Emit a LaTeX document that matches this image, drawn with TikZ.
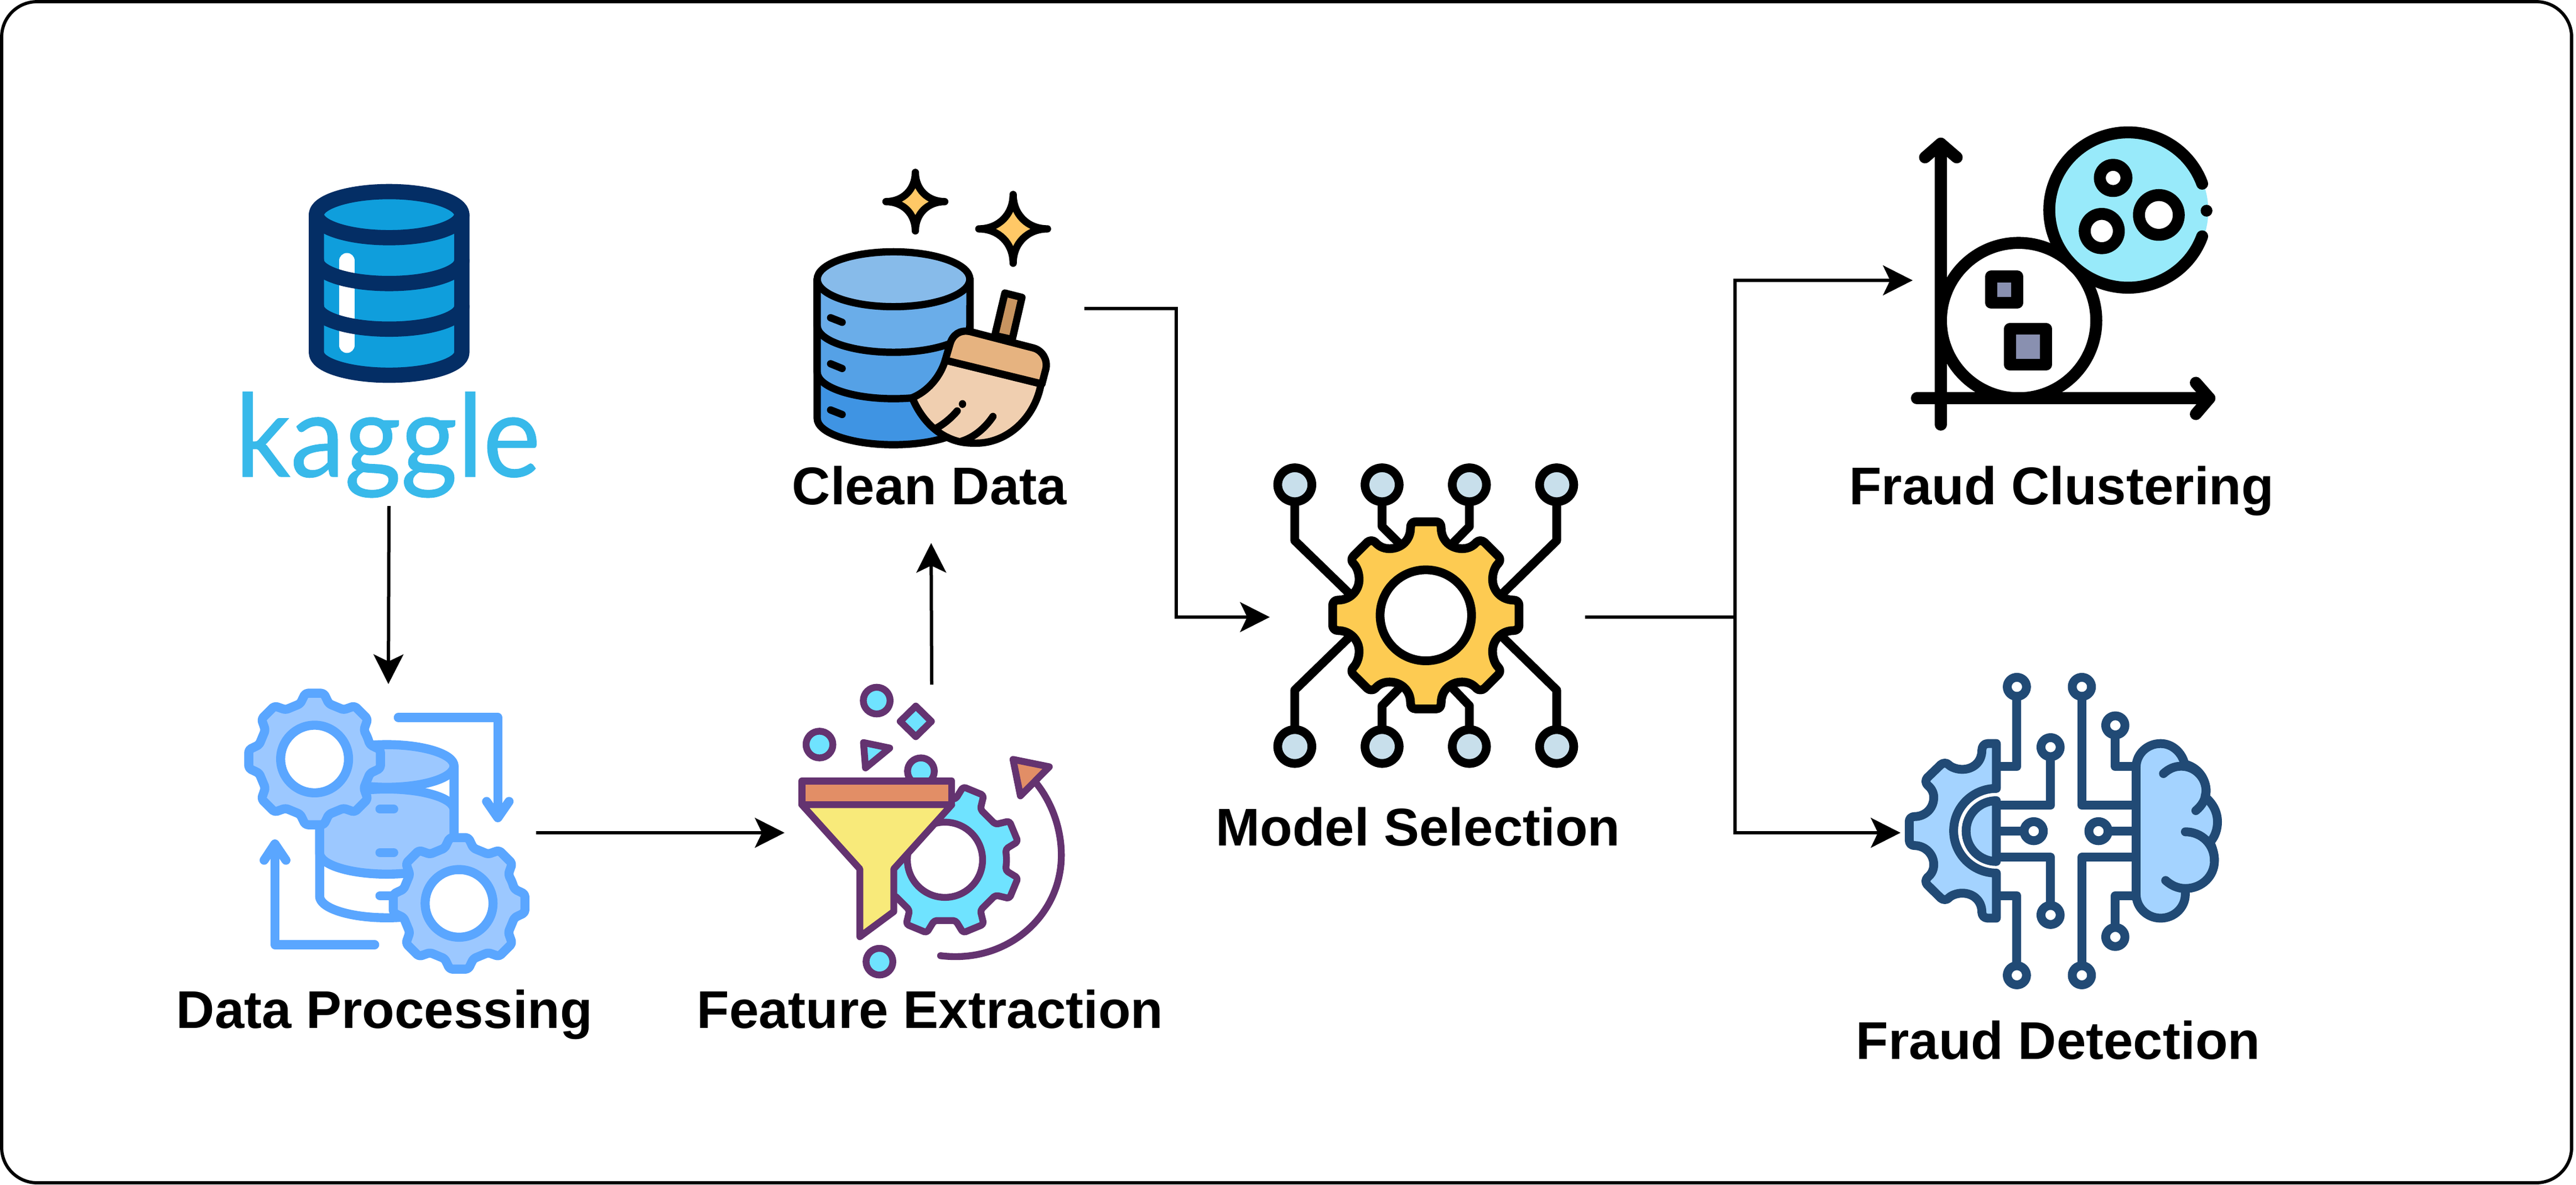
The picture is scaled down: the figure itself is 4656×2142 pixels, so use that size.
\documentclass[tikz,border=0pt]{standalone}
\usepackage{fontspec}
\setmainfont{Liberation Sans}
\newfontfamily\kagglefont{Lato}[FakeStretch=0.945,FakeBold=0.6]
\usetikzlibrary{arrows.meta}
\definecolor{navy}{HTML}{042E65}
\definecolor{dbblue}{HTML}{0F9EDC}
\definecolor{kaggleblue}{HTML}{38B9EA}
\definecolor{dpline}{HTML}{5AA6FF}
\definecolor{dpfill}{HTML}{9CC8FF}
\definecolor{purp}{HTML}{643370}
\definecolor{cyanf}{HTML}{6FE3FF}
\definecolor{orangef}{HTML}{E28E66}
\definecolor{yellowf}{HTML}{F8EA7A}
\definecolor{bandA}{HTML}{87BBEA}
\definecolor{bandB}{HTML}{6AADE9}
\definecolor{bandC}{HTML}{55A1E6}
\definecolor{bandD}{HTML}{3F94E3}
\definecolor{handlef}{HTML}{C79460}
\definecolor{headf}{HTML}{E6B380}
\definecolor{bristlef}{HTML}{F0CFB0}
\definecolor{starf}{HTML}{FFC866}
\definecolor{gearf}{HTML}{FDCB52}
\definecolor{nodef}{HTML}{C8DFEB}
\definecolor{clusterf}{HTML}{98EAFA}
\definecolor{squaref}{HTML}{8990B0}
\definecolor{detline}{HTML}{214A75}
\definecolor{detf}{HTML}{A4D3FF}
\tikzset{
  label text/.style={font=\fontsize{24pt}{28pt}\selectfont\bfseries,text=black,anchor=base,inner sep=0pt},
  conn/.style={line width=1.5pt,-{Stealth[length=13.5pt,width=13.7pt,inset=3.3pt,line width=0pt]}},
  plainconn/.style={line width=1.5pt},
  ico/.style={line cap=round,line join=round},
}
\newcommand{\gearshape}[9][]{%
 \draw[#1,rounded corners=1.2pt] ({#2+#4*#7*cos(#6-22.5)},{#3+#5*#7*sin(#6-22.5)})
  \foreach \k [evaluate=\k as \a using #6+45*\k] in {0,...,7} {
    -- ({#2+#4*#7*cos(\a-#8)},{#3+#5*#7*sin(\a-#8)})
    -- ({#2+#4*cos(\a-#9)},{#3+#5*sin(\a-#9)})
    -- ({#2+#4*cos(\a+#9)},{#3+#5*sin(\a+#9)})
    -- ({#2+#4*#7*cos(\a+#8)},{#3+#5*#7*sin(\a+#8)})
  } -- cycle;}
\newcommand{\starshape}[5][]{%
 \draw[#1] (#2,#3-#5) .. controls (#2,#3-0.42*#5) and (#2-0.42*#4,#3) .. (#2-#4,#3)
   .. controls (#2-0.42*#4,#3) and (#2,#3+0.42*#5) .. (#2,#3+#5)
   .. controls (#2,#3+0.42*#5) and (#2+0.42*#4,#3) .. (#2+#4,#3)
   .. controls (#2+0.42*#4,#3) and (#2,#3-0.42*#5) .. (#2,#3-#5) -- cycle;}
\begin{document}
\begin{tikzpicture}[x=0.25pt,y=-0.25pt]
\useasboundingbox (0,0) rectangle (4656,2142);
\draw[line width=1.45pt,rounded corners=16pt] (3,3) rectangle (4648,2139);

% ---------- Kaggle database ----------
\begin{scope}[shift={(380,280)},xscale=0.4145,yscale=0.4209,ico]
  \fill[dbblue] (463,257) -- (463,850) arc[start angle=180,end angle=0,x radius=317,y radius=97] -- (1097,257) -- cycle;
  \draw[white,line width=7pt] (596,455) -- (596,818);
  \fill[dbblue] (780,257) ellipse[x radius=317,y radius=99];
  \draw[navy,line width=6.9pt] (463,455) arc[start angle=180,end angle=0,x radius=317,y radius=98];
  \draw[navy,line width=6.9pt] (463,652) arc[start angle=180,end angle=0,x radius=317,y radius=97];
  \draw[navy,line width=6.9pt] (463,257) -- (463,850) arc[start angle=180,end angle=0,x radius=317,y radius=97] -- (1097,257);
  \draw[navy,line width=6.9pt] (780,257) ellipse[x radius=317,y radius=99];
\end{scope}
\node[font=\kagglefont\fontsize{52pt}{60pt}\selectfont,text=kaggleblue,anchor=base,inner sep=0pt] (kaggle) at (701,862) {kaggle};

% ---------- Data processing icon ----------
\begin{scope}[shift={(380,1200)},xscale=0.4145,yscale=0.4337,ico]
  \tikzset{dpl/.style={draw=dpline,line width=4.1pt}}
  \draw[dpl] (820,225) -- (1254,225) -- (1254,640);
  \draw[dpl] (1205,575) -- (1254,643) -- (1303,575);
  \draw[dpl] (717,1172) -- (282,1172) -- (282,755);
  \draw[dpl] (235,820) -- (282,752) -- (330,820);
  \path[dpl,fill=white] (477,427) -- (477,970) arc[start angle=180,end angle=0,x radius=293,y radius=90] -- (1063,427) -- cycle;
  \path[dpl,fill=dpfill] (477,610) -- (477,790) arc[start angle=180,end angle=0,x radius=293,y radius=88] -- (1063,610) arc[start angle=0,end angle=180,x radius=293,y radius=-87] -- cycle;
  \path[dpl,fill=dpfill] (770,427) ellipse[x radius=293,y radius=89];
  \draw[dpl] (740,607) -- (800,607);
  \draw[dpl] (740,788) -- (800,788);
  \draw[dpl] (740,968) -- (800,968);
  \gearshape[dpl,fill=dpfill]{455}{398}{290}{277}{0}{.86}{14.5}{8}
  \draw[dpl,fill=white] (455,398) ellipse[x radius=148,y radius=141];
  \gearshape[dpl,fill=dpfill]{1085}{1000}{290}{277}{0}{.86}{14.5}{8}
  \draw[dpl,fill=white] (1085,1000) ellipse[x radius=148,y radius=141];
\end{scope}

% ---------- Feature extraction icon ----------
\begin{scope}[shift={(1380,1180)},xscale=0.3316,yscale=0.3954,ico]
  \tikzset{fel/.style={draw=purp,line width=3.1pt}}
  \draw[fel,fill=cyanf] (617,220) ellipse[x radius=73,y radius=61];
  \draw[fel,fill=cyanf] (305,421) ellipse[x radius=73,y radius=61];
  \draw[fel,fill=cyanf] (632,1414) ellipse[x radius=73,y radius=61];
  \draw[fel,fill=cyanf] (858,543) ellipse[x radius=73,y radius=61];
  \draw[fel,fill=cyanf] (830,245) -- (915,315) -- (830,385) -- (745,315) -- cycle;
  \draw[fel,fill=cyanf] (545,412) -- (688,437) -- (556,528) -- cycle;
  \gearshape[fel,fill=cyanf]{989}{948}{410}{344}{22.5}{.82}{12.5}{8.5}
  \draw[fel,fill=white] (989,948) ellipse[x radius=205,y radius=172];
  \draw[fel,fill=yellowf] (209,696) -- (525,990) -- (525,1300) -- (710,1185) -- (710,990) -- (1026,696) -- cycle;
  \draw[fel,fill=orangef] (209,588) rectangle (1026,696);
\end{scope}
\begin{scope}[shift={(1680,1340)},scale=0.3333,ico]
  \draw[draw=purp,line width=3.1pt] (60,1165) .. controls (420,1210) and (715,950) .. (715,620) .. controls (715,470) and (660,330) .. (580,230);
  \draw[draw=purp,line width=3.1pt,fill=orangef] (453,100) -- (650,140) -- (493,298) -- cycle;
\end{scope}

% ---------- Clean data icon ----------
\begin{scope}[shift={(1420,280)},xscale=0.3316,yscale=0.3571,ico]
  \tikzset{cdl/.style={draw=black,line width=3.3pt}}
  \draw[cdl,fill=bandD] (172,630) -- (172,1335) arc[start angle=180,end angle=0,x radius=416,y radius=133] -- (1005,630) -- cycle;
  \draw[cdl,fill=bandC] (172,630) -- (172,1100) arc[start angle=180,end angle=0,x radius=416,y radius=135] -- (1005,630) -- cycle;
  \draw[cdl,fill=bandB] (172,630) -- (172,865) arc[start angle=180,end angle=0,x radius=416,y radius=135] -- (1005,630) -- cycle;
  \draw[cdl,fill=bandA] (588,630) ellipse[x radius=416,y radius=139];
  \draw[cdl] (245,825) -- (308,848);
  \draw[cdl] (245,1058) -- (308,1082);
  \draw[cdl] (245,1292) -- (308,1315);
  \starshape[cdl,fill=starf]{707}{237}{160}{148}
  \starshape[cdl,fill=starf]{1240}{375}{187}{174}
  \draw[cdl,fill=handlef] (1195,700) -- (1288,722) -- (1235,935) -- (1140,915) -- cycle;
  \draw[cdl,fill=bristlef] (870,1040) .. controls (840,1130) and (770,1200) .. (690,1230) .. controls (725,1310) and (790,1390) .. (880,1430) .. controls (940,1458) and (990,1460) .. (1040,1460) .. controls (1210,1460) and (1360,1330) .. (1392,1160) -- cycle;
  \draw[cdl,fill=headf] (870,1040) -- (895,960) .. controls (910,910) and (950,885) .. (1005,895) -- (1350,978) .. controls (1400,990) and (1430,1040) .. (1418,1085) -- (1397,1160) -- cycle;
  \draw[cdl] (935,1297) .. controls (900,1335) and (860,1365) .. (820,1385);
  \draw[cdl] (1130,1325) .. controls (1090,1380) and (1030,1430) .. (960,1450);
  \fill (964,1262) ellipse[x radius=20,y radius=20];
\end{scope}

% ---------- Model selection icon ----------
\begin{scope}[shift={(2260,820)},xscale=0.3954,yscale=0.3827,ico]
  \tikzset{mdl/.style={draw=black,line width=3.95pt}}
  \draw[mdl] (203,148) -- (203,412) -- (470,680);
  \draw[mdl] (602,148) -- (602,345) -- (680,425);
  \draw[mdl] (1001,148) -- (1001,345) -- (925,425);
  \draw[mdl] (1400,148) -- (1400,412) -- (1135,680);
  \draw[mdl] (203,1385) -- (203,1118) -- (470,850);
  \draw[mdl] (602,1385) -- (602,1192) -- (680,1110);
  \draw[mdl] (1001,1385) -- (1001,1192) -- (925,1110);
  \draw[mdl] (1400,1385) -- (1400,1118) -- (1135,850);
  \foreach \cx in {203,602,1001,1400}{
    \draw[mdl,fill=nodef] (\cx,148) ellipse[x radius=78,y radius=80];
    \draw[mdl,fill=nodef] (\cx,1385) ellipse[x radius=78,y radius=80];
  }
  \draw[mdl,fill=gearf] (850,323)
   .. controls (865,323) and (872,335) .. (872,352)
   .. controls (872,410) and (915,450) .. (968,450)
   .. controls (1000,450) and (1020,435) .. (1033,420)
   .. controls (1042,410) and (1060,410) .. (1070,420)
   -- (1133,485)
   .. controls (1143,495) and (1143,510) .. (1133,520)
   .. controls (1118,535) and (1107,565) .. (1107,595)
   .. controls (1107,650) and (1150,693) .. (1203,693)
   .. controls (1218,693) and (1228,703) .. (1228,718)
   -- (1228,812)
   .. controls (1228,827) and (1218,837) .. (1203,837)
   .. controls (1150,837) and (1107,880) .. (1107,935)
   .. controls (1107,965) and (1118,995) .. (1133,1010)
   .. controls (1143,1020) and (1143,1035) .. (1133,1045)
   -- (1070,1110)
   .. controls (1060,1120) and (1042,1120) .. (1033,1110)
   .. controls (1020,1095) and (1000,1080) .. (968,1080)
   .. controls (915,1080) and (872,1120) .. (872,1178)
   .. controls (872,1195) and (865,1207) .. (850,1207)
   -- (755,1207)
   .. controls (739,1207) and (732,1195) .. (732,1178)
   .. controls (732,1120) and (689,1080) .. (636,1080)
   .. controls (604,1080) and (584,1095) .. (571,1110)
   .. controls (562,1120) and (544,1120) .. (534,1110)
   -- (471,1045)
   .. controls (461,1035) and (461,1020) .. (471,1010)
   .. controls (486,995) and (497,965) .. (497,935)
   .. controls (497,880) and (454,837) .. (401,837)
   .. controls (386,837) and (376,827) .. (376,812)
   -- (376,718)
   .. controls (376,703) and (386,693) .. (401,693)
   .. controls (454,693) and (497,650) .. (497,595)
   .. controls (497,565) and (486,535) .. (471,520)
   .. controls (461,510) and (461,495) .. (471,485)
   -- (534,420)
   .. controls (544,410) and (562,410) .. (571,420)
   .. controls (584,435) and (604,450) .. (636,450)
   .. controls (689,450) and (732,410) .. (732,352)
   .. controls (732,335) and (739,323) .. (755,323)
   -- cycle;
  \draw[mdl,fill=white] (802,765) ellipse[x radius=209,y radius=215];
\end{scope}

% ---------- Fraud clustering icon ----------
\begin{scope}[shift={(3420,210)},xscale=0.3954,yscale=0.3827,ico]
  \tikzset{fcl/.style={draw=black,line width=5.4pt}}
  \draw[fcl,fill=white] (578,966) ellipse[x radius=355,y radius=367];
  \fill[clusterf] (1085,447) ellipse[x radius=360,y radius=367];
  \draw[fcl] (1417,568) arc[start angle=19.8,end angle=340.2,x radius=360,y radius=367];
  \fill (1437,447) ellipse[x radius=27,y radius=28];
  \draw[fcl] (222,1458) -- (222,130);
  \draw[fcl] (150,195) -- (222,130) -- (295,195);
  \draw[fcl] (113,1333) -- (1450,1333);
  \draw[fcl] (1388,1260) -- (1450,1333) -- (1388,1408);
  \draw[fcl,fill=white] (1010,292) ellipse[x radius=61,y radius=62];
  \draw[fcl,fill=white] (958,543) ellipse[x radius=78,y radius=81];
  \draw[fcl,fill=white] (1219,467) ellipse[x radius=91,y radius=94];
  \draw[fcl,fill=squaref] (452,758) rectangle (572,882);
  \draw[fcl,fill=squaref] (539,1005) rectangle (703,1175);
\end{scope}

% ---------- Fraud detection icon ----------
\begin{scope}[shift={(3420,1200)},xscale=0.3954,yscale=0.3827,ico]
  \tikzset{fdl/.style={draw=detline,line width=4pt}}
  \draw[fdl] (476,487) -- (570,487) -- (570,110);
  \draw[fdl] (476,670) -- (724,670) -- (724,395);
  \draw[fdl] (476,792) -- (647,792);
  \draw[fdl] (476,915) -- (724,915) -- (724,1188);
  \draw[fdl] (476,1097) -- (570,1097) -- (570,1473);
  \draw[fdl] (1115,670) -- (867,670) -- (867,110);
  \draw[fdl] (1115,487) -- (1020,487) -- (1020,292);
  \draw[fdl] (1115,792) -- (943,792);
  \draw[fdl] (1115,915) -- (867,915) -- (867,1473);
  \draw[fdl] (1115,1097) -- (1020,1097) -- (1020,1292);
  \foreach \px/\py in {570/110,724/395,647/792,724/1188,570/1473,867/110,1020/292,943/792,867/1473,1020/1292}{
    \draw[fdl,fill=white] (\px,\py) ellipse[x radius=44,y radius=45];
  }
  \draw[fdl,fill=detf] (476,378) -- (476,590) arc[start angle=270,end angle=90,x radius=195,y radius=200]
   -- (476,1203) -- (437,1203) .. controls (420,1203) and (410,1190) .. (410,1175)
   .. controls (410,1120) and (370,1085) .. (320,1085)
   .. controls (295,1085) and (270,1095) .. (258,1108)
   .. controls (250,1118) and (232,1118) .. (222,1108)
   -- (160,1045) .. controls (152,1035) and (152,1020) .. (162,1010)
   .. controls (180,995) and (190,975) .. (190,950)
   .. controls (190,900) and (150,860) .. (102,860)
   .. controls (88,860) and (78,850) .. (78,835)
   -- (78,745) .. controls (78,733) and (88,723) .. (102,723)
   .. controls (150,723) and (190,685) .. (190,632)
   .. controls (190,610) and (180,590) .. (162,575)
   .. controls (152,565) and (152,550) .. (160,540)
   -- (222,478) .. controls (232,468) and (250,468) .. (258,478)
   .. controls (270,490) and (295,500) .. (320,500)
   .. controls (370,500) and (410,465) .. (410,410)
   .. controls (410,392) and (420,378) .. (437,378) -- cycle;
  \draw[fdl,fill=detf] (476,648) arc[start angle=270,end angle=90,x radius=138,y radius=143.5] -- cycle;
  \draw[fdl,fill=detf] (1115,490) .. controls (1115,428) and (1165,378) .. (1227,378)
   .. controls (1280,378) and (1325,420) .. (1337,475)
   .. controls (1395,490) and (1435,540) .. (1435,605) -- (1430,630)
   .. controls (1465,660) and (1487,700) .. (1487,748)
   .. controls (1487,785) and (1475,820) .. (1452,845)
   .. controls (1465,870) and (1473,900) .. (1473,932)
   .. controls (1473,1005) and (1415,1063) .. (1340,1063)
   -- (1340,1090) .. controls (1340,1152) and (1290,1203) .. (1227,1203)
   .. controls (1165,1203) and (1115,1152) .. (1115,1090) -- cycle;
  \draw[fdl] (1240,520) .. controls (1265,497) and (1290,485) .. (1322,485)
   .. controls (1385,485) and (1435,540) .. (1435,602)
   .. controls (1435,640) and (1415,672) .. (1388,695);
  \draw[fdl] (1340,795) .. controls (1415,795) and (1473,855) .. (1473,932);
  \draw[fdl] (1340,1063) .. controls (1305,1063) and (1275,1048) .. (1250,1025);
\end{scope}

% ---------- Labels ----------
\node[label text] (dplabel) at (695,1859) {Data Processing};
\node[label text] (felabel) at (1681,1859) {Feature Extraction};
\node[label text] (cdlabel) at (1680,912) {Clean Data};
\node[label text] (mslabel) at (2563,1529) {Model Selection};
\node[label text] (fclabel) at (3726,912) {Fraud Clustering};
\node[label text] (fdlabel) at (3720,1915) {Fraud Detection};

% ---------- Connectors ----------
\coordinate (kaggleOut) at (703,915);
\coordinate (dpIn) at (702,1237);
\coordinate (dpOut) at (969,1506);
\coordinate (feIn) at (1418,1506);
\coordinate (feOut) at (1684,1238);
\coordinate (cdIn) at (1683,982);
\coordinate (cdOut) at (1960,558);
\coordinate (cdBend) at (2126,558);
\coordinate (msIn) at (2295,1116);
\coordinate (msOut) at (2865,1116);
\coordinate (split) at (3136,1116);
\coordinate (fcIn) at (3457,507);
\coordinate (fdIn) at (3435,1506);
\draw[conn] (kaggleOut) -- (dpIn);
\draw[conn] (dpOut) -- (feIn);
\draw[conn] (feOut) -- (cdIn);
\draw[conn] (cdOut) -- (cdBend) |- (msIn);
\draw[plainconn] (msOut) -- (split);
\draw[conn] (split) |- (fcIn);
\draw[conn] (split) |- (fdIn);
\end{tikzpicture}
\end{document}
